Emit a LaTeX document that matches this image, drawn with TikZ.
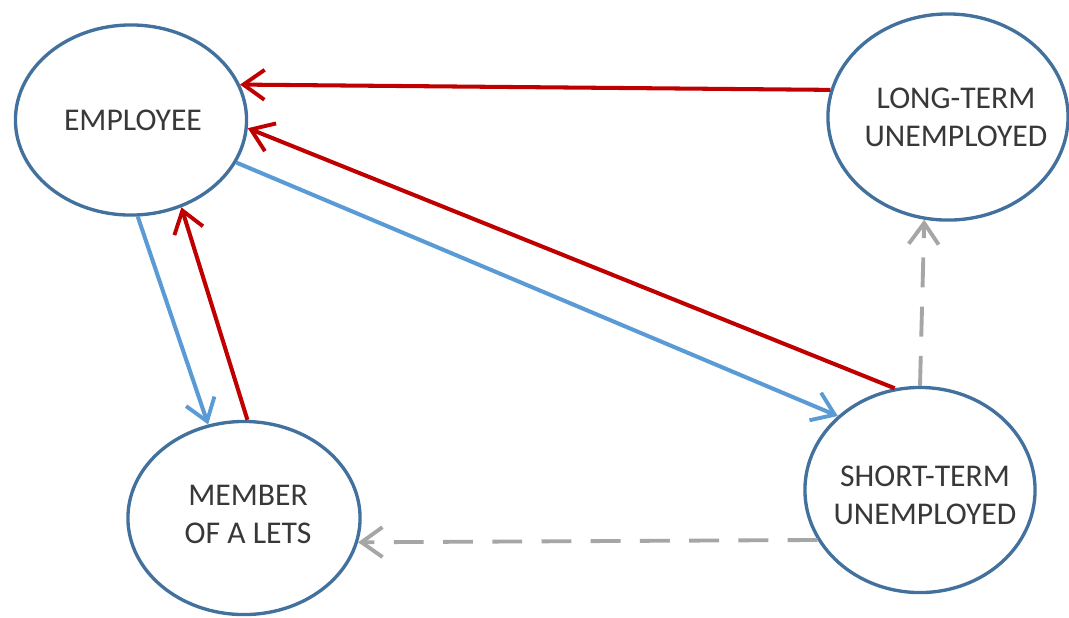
\documentclass[tikz,border=0pt]{standalone}
\usepackage{fontspec}
\setmainfont{Carlito}
\usetikzlibrary{arrows.meta,shapes.geometric}
\definecolor{ringblue}{HTML}{41719C}
\definecolor{flowblue}{HTML}{5B9BD5}
\definecolor{flowred}{HTML}{C00000}
\definecolor{flowgray}{HTML}{A6A6A6}
\definecolor{txtgray}{HTML}{383838}
\tikzset{
  state/.style={ellipse, draw=ringblue, line width=0.95pt, fill=white, inner sep=0pt},
  statetext/.style={text=txtgray, align=center, inner sep=0pt, font=\fontsize{9}{10.8}\selectfont},
  barb/.style={-{Straight Barb[length=6pt,width=8.5pt,line width=1.1pt]}},
  redflow/.style={barb, draw=flowred, line width=1.15pt},
  blueflow/.style={barb, draw=flowblue, line width=1.15pt},
  grayflow/.style={barb, draw=flowgray, line width=1.1pt, dash pattern=on 8.5pt off 5.5pt}
}
\begin{document}
\begin{tikzpicture}[x=0.01cm,y=-0.01cm]
\useasboundingbox[fill=white] (0,0) rectangle (1069,617);
\node[state, minimum width=2.31cm, minimum height=1.90cm,
  label={[statetext, xshift=0.02cm]center:EMPLOYEE}] (emp) at (131,120) {};
\node[state, minimum width=2.40cm, minimum height=2.06cm,
  label={[statetext, xshift=0.08cm]center:LONG-TERM\\UNEMPLOYED}] (long) at (948,117) {};
\node[state, minimum width=2.32cm, minimum height=1.93cm,
  label={[statetext, xshift=0.04cm, yshift=0.04cm]center:MEMBER\\OF A LETS}] (mem) at (244,518) {};
\node[state, minimum width=2.30cm, minimum height=2.05cm,
  label={[statetext, xshift=0.05cm, yshift=-0.05cm]center:SHORT-TERM\\UNEMPLOYED}] (short) at (920,490) {};
\draw[redflow] (long.167.8) -- (emp.18);
\draw[redflow] (short.104.3) -- (emp.-4.9);
\draw[blueflow] (emp.-22.1) -- (short.138.7);
\draw[blueflow] (emp.-86.3) -- (mem.111.2);
\draw[redflow] (mem.88.8) -- (emp.-60.9);
\draw[grayflow] (short.90) -- (long.-103.5);
\draw[grayflow] (short.-154.3) -- (mem.-12);
\end{tikzpicture}
\end{document}
